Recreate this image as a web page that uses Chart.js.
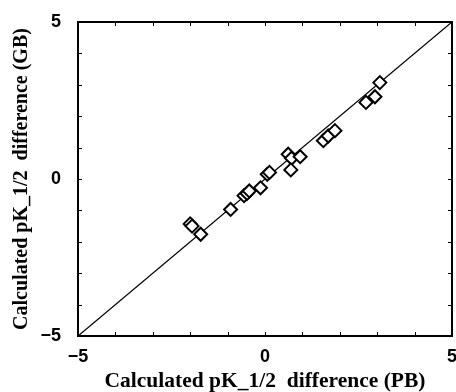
<!DOCTYPE html>
<html>
<head>
<meta charset="utf-8">
<script src="https://cdn.jsdelivr.net/npm/chart.js@4/dist/chart.umd.min.js"></script>
<style>
	body { margin: 0; background: #fff; }
	canvas { display: block; }
</style>
</head>
<body>
<canvas id="myChart" width="456" height="392"></canvas>
<script>

// calculated pK_1/2 differences, PB (x) vs GB (y)
const pb_diff = [-2.00, -1.95, -1.72, -0.92, -0.56, -0.48, -0.42, -0.12, 0.06, 0.12, 0.62, 0.71, 0.69, 0.94, 1.56, 1.69, 1.87, 2.70, 2.94, 3.07];
const gb_diff = [-1.43, -1.50, -1.76, -0.97, -0.53, -0.46, -0.38, -0.28, 0.15, 0.21, 0.79, 0.66, 0.29, 0.71, 1.22, 1.37, 1.54, 2.44, 2.62, 3.07];

const diagonal_x = [-5, 5];
const diagonal_y = [-5, 5];

const axis_min = -5;
const axis_max = 5;
const tick_values = [-5, 0, 5];
const tick_labels = ['\u22125', '0', '5'];

const x_title = 'Calculated pK_1/2  difference (PB)';
const y_title = 'Calculated pK_1/2  difference (GB)';


function toPoints(xs, ys)
{
	return xs.map((x, i) => ({x: x, y: ys[i]}));
}


function tickLabel(value)
{
	const idx = tick_values.indexOf(value);
	return idx >= 0 ? tick_labels[idx] : '';
}


// frame round the plot plus short inward ticks on all four sides
const framePlugin = {
	id: 'frame',
	afterDraw(chart)
	{
		const ctx = chart.ctx;
		const area = chart.chartArea;
		const xs = chart.scales.x;
		const ys = chart.scales.y;
		const len = 4;

		ctx.save();
		ctx.strokeStyle = '#000';
		ctx.lineWidth = 1;
		ctx.beginPath();

		for (let t of xs.ticks)
		{
			const px = Math.round(xs.getPixelForValue(t.value)) + 0.5;
			ctx.moveTo(px, area.bottom);
			ctx.lineTo(px, area.bottom - len);
			ctx.moveTo(px, area.top);
			ctx.lineTo(px, area.top + len);
		}

		for (let t of ys.ticks)
		{
			const py = Math.round(ys.getPixelForValue(t.value)) + 0.5;
			ctx.moveTo(area.left, py);
			ctx.lineTo(area.left + len, py);
			ctx.moveTo(area.right, py);
			ctx.lineTo(area.right - len, py);
		}
		ctx.stroke();

		ctx.lineWidth = 2;
		ctx.strokeRect(area.left, area.top, area.right - area.left, area.bottom - area.top);
		ctx.restore();
	}
};


window.onload = function(){

	const canvas = document.getElementById('myChart').getContext('2d');

	new Chart(canvas, {
		type: 'scatter',
		data: {
			datasets: [
				{
					type: 'line',
					data: toPoints(diagonal_x, diagonal_y),
					borderColor: '#000',
					borderWidth: 1.3,
					pointRadius: 0,
					fill: false,
					order: 2,
				},
				{
					data: toPoints(pb_diff, gb_diff),
					pointStyle: 'rectRot',
					pointRadius: 6.5,
					pointBorderWidth: 2,
					pointBorderColor: '#000',
					pointBackgroundColor: '#fff',
					order: 1,
				},
			],
		},
		options: {
			responsive: false,
			animation: false,
			layout: {
				autoPadding: false,
				padding: {top: 22, right: 4, left: 0, bottom: 0},
			},
			plugins: {
				legend: {display: false},
				tooltip: {enabled: false},
			},
			scales: {
				x: {
					type: 'linear',
					min: axis_min,
					max: axis_max,
					grid: {display: false, drawTicks: false, tickLength: 0},
					border: {display: false},
					ticks: {
						stepSize: 1,
						autoSkip: false,
						maxRotation: 0,
						padding: 10,
						color: '#000',
						font: {family: 'Liberation Sans', size: 18, weight: 'bold'},
						callback: tickLabel,
					},
					title: {
						display: true,
						text: x_title,
						color: '#000',
						padding: {top: 0, bottom: 0},
						font: {family: 'Liberation Serif', size: 21.5, weight: 'bold', lineHeight: 1},
					},
					afterFit: (scale) => {
						scale.height = 56;
						scale.paddingLeft = 0;
						scale.paddingRight = 0;
					},
				},
				y: {
					type: 'linear',
					min: axis_min,
					max: axis_max,
					grid: {display: false, drawTicks: false, tickLength: 0},
					border: {display: false},
					ticks: {
						stepSize: 1,
						autoSkip: false,
						padding: 17,
						color: '#000',
						font: {family: 'Liberation Sans', size: 18, weight: 'bold'},
						callback: tickLabel,
					},
					title: {
						display: true,
						text: y_title,
						color: '#000',
						padding: {top: 12, bottom: 0},
						font: {family: 'Liberation Serif', size: 20, weight: 'bold', lineHeight: 1},
					},
					afterFit: (scale) => {
						scale.width = 78;
						scale.paddingTop = 0;
						scale.paddingBottom = 0;
					},
				},
			},
		},
		plugins: [framePlugin],
	});

}

</script>
</body>
</html>
